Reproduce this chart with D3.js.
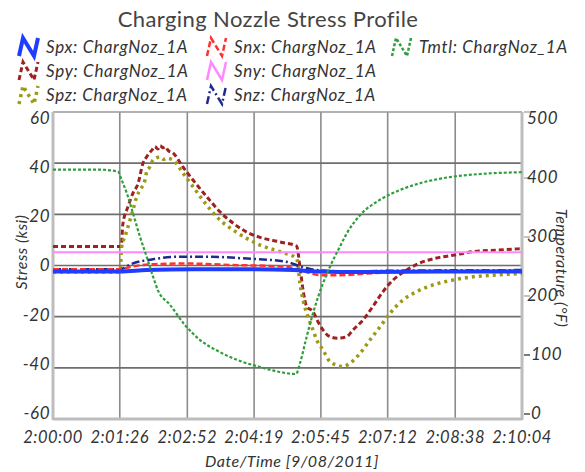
<!DOCTYPE html>
<html><head><meta charset="utf-8">
<script src="https://cdn.jsdelivr.net/npm/d3@7"></script>
<style>
body{margin:0;background:#fff;}
text{font-family:Lato,"Open Sans",sans-serif;}
</style></head>
<body><svg id="c" width="585" height="472"></svg>
<script>
// ---- data (time in seconds after 2:00:00, stress in ksi, temperature in °F) ----
const title = "Charging Nozzle Stress Profile";
const xTickLabels = ["2:00:00","2:01:26","2:02:52","2:04:19","2:05:45","2:07:12","2:08:38","2:10:04"];
const xTickSeconds = [0,86,173,259,345,431,518,604];
const yTicks = [60,40,20,0,-20,-40,-60];
const y2Ticks = [500,400,300,200,100,0];
const y2TickLabels = ["500","400","300","200","100","0"];

const spyTime   = [0,87.6,88.5,89.8,96.6,103,109.5,115.9,120.7,124,127.1,131,135.2,138,141.7,145,148.1,154.5,167.4,180.3,198.3,215,231.8,249.8,266.6,292.3,313.8,318,322,326.7,334.8,341.3,347.7,356.7,367,378.2,386.3,399.2,412,425,437.9,455.5,472.6,494,515,540.9,571.4,604];
const spyStress = [7.4,7.4,9,15.8,23,28.3,32,40,42.5,44,45,46.5,45.5,46.8,46,46.4,45,44,38.5,33.4,26.8,21,16.6,13,11,9.2,7.6,-0.5,-9.6,-16,-18,-22,-25.2,-27.8,-28.4,-27.8,-25.2,-21.3,-16,-10.2,-5.7,-1.8,1,2.9,4,5.4,6,6.6];

const spzTime   = [0,86.3,88.5,92.7,99.2,103,107.8,112,118.5,120.7,124.9,128.8,133,137.8,142,146.4,154.5,167.4,180.3,198,215,231.8,249.4,266.6,292.3,313.8,318,322,328.4,334.8,339.6,347.7,356.7,365.3,373.5,382.5,395.4,408.2,421.1,434,450.7,468.4,489.4,515,540.9,571.4,604];
const spzStress = [-2.5,-2.5,7.4,11.3,17.8,21.7,26.9,29.5,33.4,36.7,38.6,41.2,42,42.5,41.5,41.9,41.2,36.1,30.8,23.6,17.8,13.9,10.6,8,5.4,2.8,-6.9,-13.5,-20,-25.2,-29.1,-33,-37.6,-38.9,-39.5,-38.2,-34.3,-29.1,-24,-18.7,-13.5,-10.2,-7.6,-5.7,-4.4,-3.7,-3.1];

const spxTime   = [0,86,120,180,250,310,340,400,500,604];
const spxStress = [-2.3,-2.3,-1.8,-1.5,-1.5,-1.8,-2.3,-2.5,-2.3,-2.3];

const snxTime   = [0,86,100,130,170,220,300,320,345,370,400,450,520,604];
const snxStress = [-1.5,-1.5,-0.5,0.5,0.8,0.3,-0.5,-2,-3.8,-3.8,-3.2,-2.5,-2.2,-2];

const snzTime   = [0,86,100,130,160,200,250,300,320,340,380,450,604];
const snzStress = [-1.5,-1.5,0.5,2.5,3.4,3.4,2.7,1.5,-0.5,-1.8,-2.3,-2,-1.8];

const snyTime   = [0,604];
const snyStress = [5.2,5.2];

const tmtlTime  = [0,60.5,83.7,88.5,95,103,112,120.7,128.8,135,150.7,170,189,215,240.8,266.6,292,313,318,326.7,334.8,347.7,356.7,369.6,378.2,395.4,421,447,472.6,511,550,604];
const tmtlTemp  = [406,406,403,389,368,335,297,264,232,210,186,153,129,109,94.5,84.7,76.5,73.3,90.7,134,172,221,248,281,302,332,357,373,384,394,399,402];

const series = [
  {name:"Spy: ChargNoz_1A", t:spyTime, v:spyStress, axis:"y", color:"#9e2222", w:3, dash:"5,3"},
  {name:"Spz: ChargNoz_1A", t:spzTime, v:spzStress, axis:"y", color:"#9c9a12", w:3.5, dash:"3,4"},
  {name:"Sny: ChargNoz_1A", t:snyTime, v:snyStress, axis:"y", color:"#ff88ff", w:2, dash:null},
  {name:"Snz: ChargNoz_1A", t:snzTime, v:snzStress, axis:"y", color:"#1e2a8e", w:2.5, dash:"8,3,2,3"},
  {name:"Snx: ChargNoz_1A", t:snxTime, v:snxStress, axis:"y", color:"#ff3030", w:2.5, dash:"6,3"},
  {name:"Spx: ChargNoz_1A", t:spxTime, v:spxStress, axis:"y", color:"#1f3cff", w:4, dash:null},
  {name:"Tmtl: ChargNoz_1A", t:tmtlTime, v:tmtlTemp, axis:"y2", color:"#2e9e3c", w:2.2, dash:"3,2"}
];
const legendOrder = ["Spx","Snx","Tmtl","Spy","Sny","Spz","Snz"];

// ---- layout ----
const svg = d3.select("#c");
const L=53, R=522, T=112, B=419;
const x = d3.scaleLinear().domain([0,604]).range([L,R]);
const y = d3.scaleLinear().domain([-60,60]).range([B,T]);
const y2 = d3.scaleLinear().domain([0,500]).range([B,T]);

// vertical gridlines
svg.append("g").selectAll("line").data(xTickSeconds.slice(1,-1)).join("line")
  .attr("x1",d=>x(d)).attr("x2",d=>x(d)).attr("y1",T).attr("y2",B)
  .attr("stroke","#8c8c8c").attr("stroke-width",1.6);
// horizontal gridlines
svg.append("g").selectAll("line").data(yTicks.slice(0,-1)).join("line")
  .attr("x1",L).attr("x2",R).attr("y1",d=>y(d)).attr("y2",d=>y(d))
  .attr("stroke",(d,i)=>i==0?"#999":"#6e6e6e").attr("stroke-width",1.6);

// axis frame lines (left, bottom, right)
const frame = svg.append("g").attr("stroke","#bdbdbd").attr("stroke-width",3);
frame.append("line").attr("x1",L).attr("x2",L).attr("y1",T).attr("y2",B+1);
frame.append("line").attr("x1",L).attr("x2",R).attr("y1",B).attr("y2",B);
frame.append("line").attr("x1",R).attr("x2",R).attr("y1",T).attr("y2",B+1);

// series
svg.append("clipPath").attr("id","pc").append("rect")
  .attr("x",L).attr("y",T-2).attr("width",R-L).attr("height",B-T+4);
const gS = svg.append("g").attr("clip-path","url(#pc)");
series.forEach(s=>{
  const sc = s.axis=="y"?y:y2;
  const pts = s.t.map((t,i)=>[t,s.v[i]]);
  const line = d3.line().x(d=>x(d[0])).y(d=>sc(d[1])).curve(d3.curveMonotoneX);
  gS.append("path").attr("d",line(pts)).attr("fill","none")
    .attr("stroke",s.color).attr("stroke-width",s.w)
    .attr("stroke-dasharray",s.dash).attr("stroke-linejoin","round");
});

const LS = "0.5px";
// left tick labels
const lblStep = (413-118)/6;
svg.append("g").selectAll("text").data(yTicks).join("text")
  .attr("x",50).attr("y",(d,i)=>118+i*lblStep).attr("dy","0.35em")
  .attr("text-anchor","end").attr("font-size",17).attr("font-style","italic")
  .attr("letter-spacing",LS).attr("fill","#333").text(d=>d);
// right ticks + labels
const r2Step = (413-118)/5;
svg.append("g").selectAll("line").data(y2Ticks).join("line")
  .attr("x1",524).attr("x2",530)
  .attr("y1",(d,i)=>d==500?y2(d):118+i*r2Step+1).attr("y2",(d,i)=>d==500?y2(d):118+i*r2Step+1)
  .attr("stroke",(d)=>d<=100?"#444":"#aaa").attr("stroke-width",1.4);
svg.append("g").selectAll("text").data(y2TickLabels).join("text")
  .attr("x",(d,i)=>y2Ticks[i]<=100?531:527).attr("y",(d,i)=>118+i*r2Step).attr("dy","0.35em")
  .attr("text-anchor","start").attr("font-size",17).attr("font-style","italic")
  .attr("letter-spacing",LS).attr("fill","#333").text(d=>d);

// bottom tick labels
svg.append("g").selectAll("text").data(xTickLabels).join("text")
  .attr("x",(d,i)=>x(xTickSeconds[i])).attr("y",443)
  .attr("text-anchor","middle").attr("font-size",16.5).attr("font-style","italic")
  .attr("letter-spacing",LS).attr("fill","#333").text(d=>d);

// axis titles
svg.append("text").attr("transform","translate(27,252) rotate(-90)")
  .attr("text-anchor","middle").attr("font-size",16).attr("font-style","italic")
  .attr("letter-spacing",LS).attr("fill","#333").text("Stress (ksi)");
svg.append("text").attr("transform","translate(556,268) rotate(90)")
  .attr("text-anchor","middle").attr("font-size",16).attr("font-style","italic")
  .attr("letter-spacing",LS).attr("fill","#333").text("Temperature (°F)");
svg.append("text").attr("x",292).attr("y",467)
  .attr("text-anchor","middle").attr("font-size",16).attr("font-style","italic")
  .attr("letter-spacing",LS).attr("fill","#333").text("Date/Time [9/08/2011]");

// title
svg.append("text").attr("x",268).attr("y",27).attr("text-anchor","middle")
  .attr("font-size",22).attr("letter-spacing","0.4px").attr("fill","#444").text(title);

// legend
const colX = [19,207,392], rowY = [47,71,95];
legendOrder.forEach((k,i)=>{
  const s = series.find(d=>d.name.startsWith(k+":"));
  const col = i<3? i : (i<5? i-3 : i-5);
  const row = i<3? 0 : (i<5? 1 : 2);
  const cx = colX[col], cy = rowY[row];
  const g = svg.append("g");
  g.append("path").attr("d",`M${cx},${cy+9}L${cx+4},${cy-9}L${cx+15},${cy+9}L${cx+19},${cy-9}`)
    .attr("fill","none").attr("stroke",s.color).attr("stroke-width",Math.max(s.w,2.5))
    .attr("stroke-dasharray",s.dash);
  g.append("text").attr("x",cx+27).attr("y",cy).attr("dy","0.35em")
    .attr("font-size",17).attr("font-style","italic").attr("letter-spacing","0.7px")
    .attr("fill","#333").text(s.name);
});
</script></body></html>
